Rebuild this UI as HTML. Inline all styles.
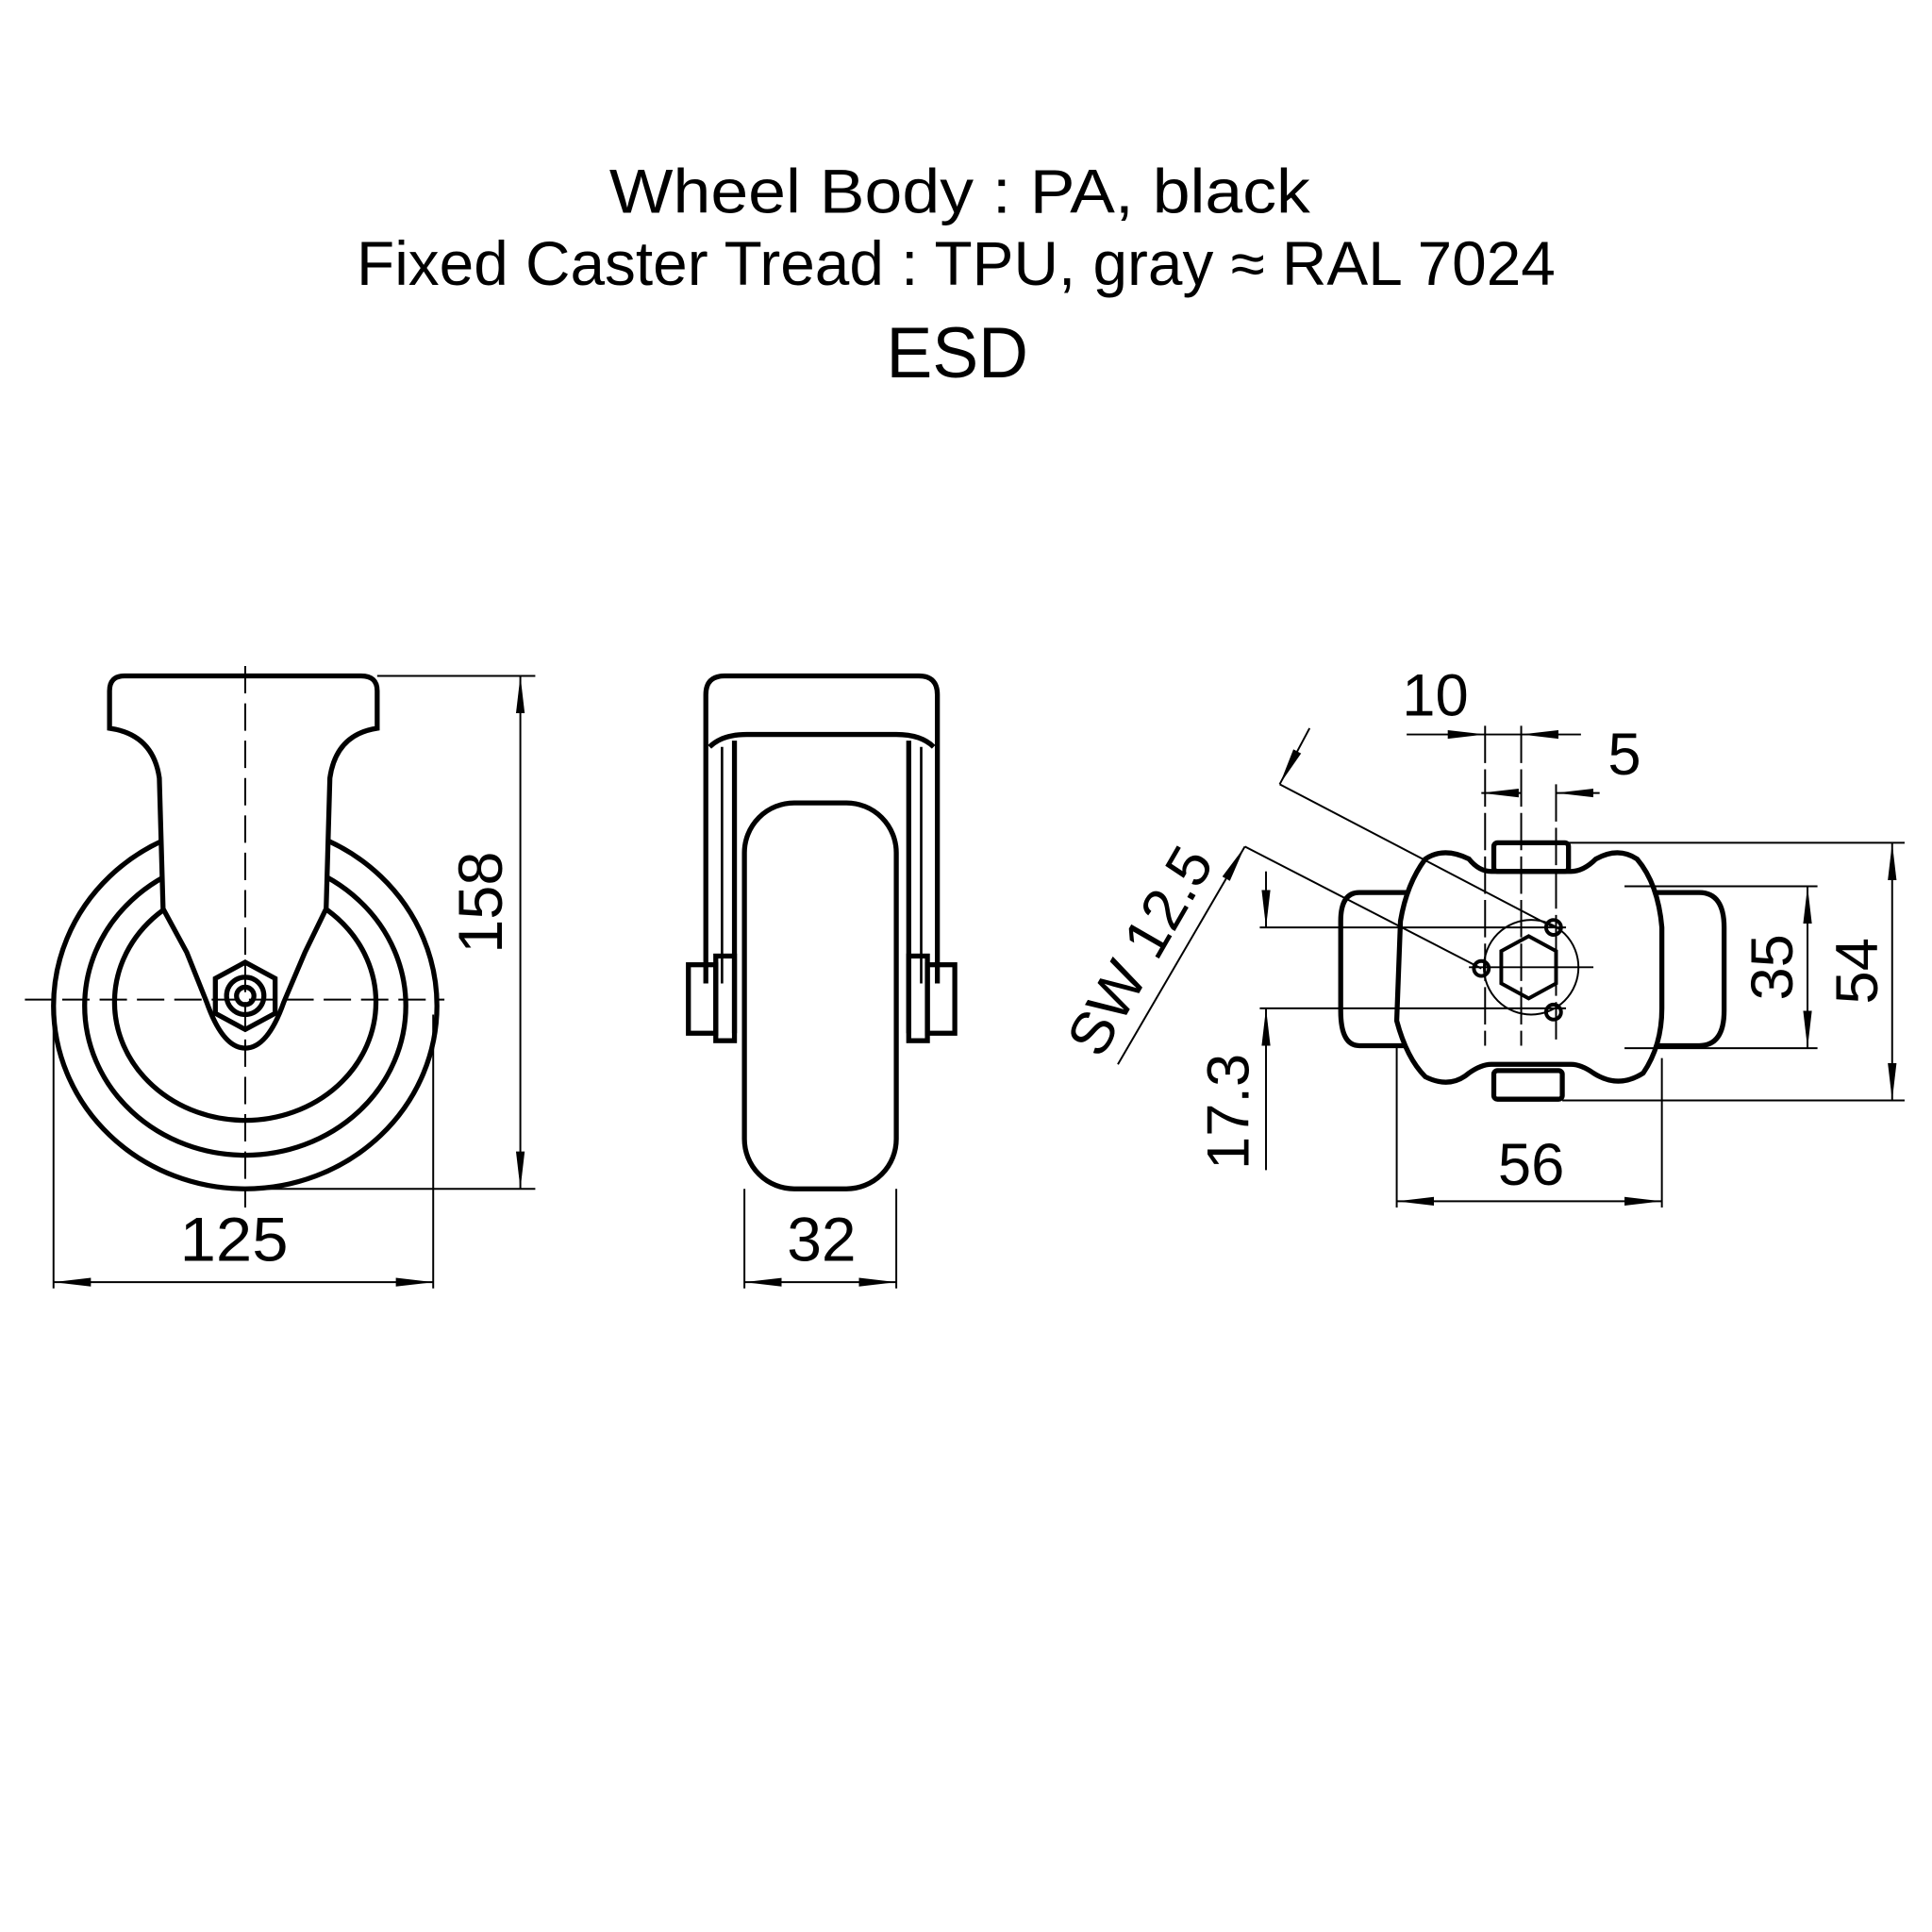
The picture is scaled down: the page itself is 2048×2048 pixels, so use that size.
<!DOCTYPE html>
<html><head><meta charset="utf-8"><style>
html,body{margin:0;padding:0;background:#fff}
svg{display:block}
text{font-family:"Liberation Sans",sans-serif;fill:#000}
</style></head><body>
<svg width="2048" height="2048" viewBox="0 0 1552 1552" xmlns="http://www.w3.org/2000/svg">
<defs>
<marker id="a" viewBox="0 0 30 10" refX="30" refY="5" markerWidth="30" markerHeight="10" markerUnits="userSpaceOnUse" orient="auto-start-reverse"><path d="M0,1.5 L30,5 L0,8.5Z" fill="#000"/></marker>
</defs>
<g text-anchor="middle">
<text x="771" y="171" font-size="50" textLength="563" lengthAdjust="spacingAndGlyphs">Wheel Body : PA, black</text>
<text x="768" y="229" font-size="50" textLength="963" lengthAdjust="spacingAndGlyphs">Fixed Caster Tread : TPU, gray ≈ RAL 7024</text>
<text x="769" y="303" font-size="58" textLength="114" lengthAdjust="spacingAndGlyphs">ESD</text>
</g>

<!-- LEFT VIEW -->
<g fill="none" stroke="#000" stroke-width="4">
<ellipse cx="197" cy="808" rx="154" ry="147"/>
<ellipse cx="197" cy="808" rx="129" ry="120"/>
<ellipse cx="197" cy="805" rx="105" ry="95"/>
<path fill="#fff" d="M88,585 L88,555 Q88,543 100,543 L290,543 Q303,543 303,555 L303,585 Q270,590 265,625 L262,730 L245,765 L228,805 Q215,842 197,842 Q179,842 166,805 L150,765 L131,730 L128,625 Q123,590 88,585 Z"/>
<polygon points="197,773 221,786 221,814 197,827 173,814 173,786" fill="#fff"/>
<circle cx="197" cy="800" r="15"/>
<circle cx="197" cy="800" r="7"/>
</g>
<g stroke="#000" stroke-width="1.5" fill="none">
<line x1="197" y1="535" x2="197" y2="970" stroke-dasharray="22,8"/>
<line x1="20" y1="803" x2="357" y2="803" stroke-dasharray="22,8"/>
<line x1="303" y1="543" x2="430" y2="543"/>
<line x1="200" y1="955" x2="430" y2="955"/>
<line x1="418" y1="543" x2="418" y2="955" marker-start="url(#a)" marker-end="url(#a)"/>
<line x1="43" y1="815" x2="43" y2="1035"/>
<line x1="348" y1="815" x2="348" y2="1035"/>
<line x1="43" y1="1030" x2="348" y2="1030" marker-start="url(#a)" marker-end="url(#a)"/>
</g>
<text x="188" y="1013" font-size="50" text-anchor="middle" textLength="87" lengthAdjust="spacingAndGlyphs">125</text>
<text transform="translate(403,725) rotate(-90)" font-size="50" text-anchor="middle" textLength="82" lengthAdjust="spacingAndGlyphs">158</text>

<!-- MIDDLE VIEW -->
<g fill="none" stroke="#000" stroke-width="4">
<path d="M567,790 L567,558 Q567,543 582,543 L738,543 Q753,543 753,558 L753,790"/>
<path d="M570,600 Q580,590 600,590 L720,590 Q740,590 750,600"/>
<line x1="580" y1="600" x2="580" y2="790" stroke-width="2"/>
<line x1="590" y1="595" x2="590" y2="830"/>
<line x1="740" y1="600" x2="740" y2="790" stroke-width="2"/>
<line x1="730" y1="595" x2="730" y2="830"/>
<rect x="598" y="645" width="122" height="310" rx="40" fill="#fff"/>
<rect x="553" y="775" width="22" height="55"/>
<rect x="575" y="768" width="15" height="68"/>
<rect x="745" y="775" width="22" height="55"/>
<rect x="730" y="768" width="15" height="68"/>
</g>
<g stroke="#000" stroke-width="1.5">
<line x1="598" y1="955" x2="598" y2="1035"/>
<line x1="720" y1="955" x2="720" y2="1035"/>
<line x1="598" y1="1030" x2="720" y2="1030" marker-start="url(#a)" marker-end="url(#a)"/>
</g>
<text x="660" y="1013" font-size="50" text-anchor="middle">32</text>

<!-- RIGHT VIEW -->
<g fill="none" stroke="#000" stroke-width="4">
<path d="M1135,717 L1092,717 Q1077,717 1077,740 L1077,812 Q1077,840 1092,840 L1135,840" />
<path d="M1300,717 L1365,717 Q1385,717 1385,745 L1385,812 Q1385,840 1365,840 L1300,840"/>
<path fill="#fff" d="M1198,700 Q1188,700 1180,690 Q1160,680 1145,690 Q1130,710 1125,740 L1122,820 Q1130,850 1145,865 Q1165,875 1180,862 Q1190,855 1198,855 L1262,855 Q1270,855 1280,862 Q1300,875 1320,862 Q1335,840 1335,810 L1335,745 Q1332,710 1315,690 Q1300,680 1282,690 Q1272,700 1262,700 Z"/>
<rect x="1200" y="677" width="60" height="23" rx="3"/>
<rect x="1200" y="860" width="55" height="23" rx="3"/>
</g>
<g stroke="#000" stroke-width="1.5" fill="none">
<circle cx="1230" cy="777" r="38"/>
<polygon points="1228,752 1250,764 1250,790 1228,802 1206,790 1206,764" stroke-width="3"/>
<circle cx="1248" cy="745" r="6" stroke-width="3"/>
<circle cx="1190" cy="778" r="6" stroke-width="3"/>
<circle cx="1248" cy="813" r="6" stroke-width="3"/>
<line x1="1193" y1="583" x2="1193" y2="840" stroke-dasharray="30,5"/>
<line x1="1222" y1="583" x2="1222" y2="840" stroke-dasharray="30,5"/>
<line x1="1250" y1="630" x2="1250" y2="840" stroke-dasharray="30,5"/>
<line x1="1180" y1="777" x2="1280" y2="777"/>
<line x1="1130" y1="590" x2="1193" y2="590" marker-end="url(#a)"/>
<line x1="1270" y1="590" x2="1222" y2="590" marker-end="url(#a)"/>
<line x1="1193" y1="590" x2="1222" y2="590"/>
<line x1="1222" y1="637" x2="1190" y2="637" marker-end="url(#a)"/>
<line x1="1285" y1="637" x2="1250" y2="637" marker-end="url(#a)"/>
<line x1="1260" y1="677" x2="1530" y2="677"/>
<line x1="1255" y1="884" x2="1530" y2="884"/>
<line x1="1520" y1="677" x2="1520" y2="884" marker-start="url(#a)" marker-end="url(#a)"/>
<line x1="1305" y1="712" x2="1460" y2="712"/>
<line x1="1305" y1="842" x2="1460" y2="842"/>
<line x1="1452" y1="712" x2="1452" y2="842" marker-start="url(#a)" marker-end="url(#a)"/>
<line x1="1122" y1="840" x2="1122" y2="970"/>
<line x1="1335" y1="850" x2="1335" y2="970"/>
<line x1="1122" y1="965" x2="1335" y2="965" marker-start="url(#a)" marker-end="url(#a)"/>
<line x1="1012" y1="745" x2="1258" y2="745"/>
<line x1="1012" y1="810" x2="1258" y2="810"/>
<line x1="1017" y1="700" x2="1017" y2="745" marker-end="url(#a)"/>
<line x1="1017" y1="940" x2="1017" y2="810" marker-end="url(#a)"/>
<line x1="1028" y1="630" x2="1248" y2="745"/>
<line x1="1000" y1="680" x2="1190" y2="778"/>
<line x1="898" y1="855" x2="1000" y2="680" marker-end="url(#a)"/>
<line x1="1052" y1="585" x2="1028" y2="630" marker-end="url(#a)"/>
</g>
<text x="1153" y="575" font-size="48" text-anchor="middle">10</text>
<text x="1305" y="622" font-size="48" text-anchor="middle">5</text>
<text x="1230" y="952" font-size="48" text-anchor="middle">56</text>
<text transform="translate(1440,777) rotate(-90)" font-size="48" text-anchor="middle">35</text>
<text transform="translate(1508,780) rotate(-90)" font-size="48" text-anchor="middle">54</text>
<text transform="translate(1003,893) rotate(-90)" font-size="48" text-anchor="middle">17.3</text>
<text transform="translate(930,772) rotate(-60)" font-size="48" text-anchor="middle">SW 12.5</text>
</svg>
</body></html>
